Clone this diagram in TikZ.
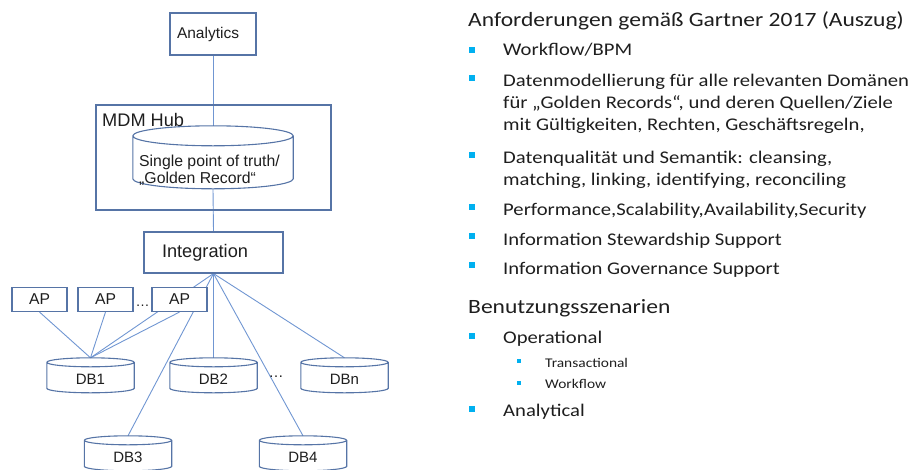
\documentclass[tikz,border=0pt]{standalone}
\usepackage{fontspec}
\setmainfont{Liberation Sans}
\newfontfamily\calib[FakeStretch=1.16]{Carlito}
\usetikzlibrary{calc,backgrounds}
\definecolor{boxc}{RGB}{86,116,166}
\definecolor{linec}{RGB}{112,150,210}
\definecolor{bulc}{RGB}{0,176,240}
\definecolor{txtc}{RGB}{30,30,30}
\newcommand\cylout[3]{%
  \draw[cylc] let \p1=(#1.north west), \p2=(#1.north east), \n1={(\x2-\x1)/2} in
   (\x1,\y1-#2pt) -- (\x1,\y1-#3pt+#2pt)
   arc[start angle=180,end angle=360,x radius=\n1,y radius=#2pt]
   -- (\x2,\y1-#2pt)
   arc[start angle=0,end angle=180,x radius=\n1,y radius=#2pt] -- cycle
   (\x1,\y1-#2pt)
   arc[start angle=180,end angle=360,x radius=\n1,y radius=#2pt];}
\begin{document}
\begin{tikzpicture}[x=1pt,y=-1pt,
  box/.style={draw=boxc, line width=1.1pt, fill=white, inner sep=0pt, text=txtc},
  hubbox/.style={draw=boxc, line width=1.9pt, inner sep=0pt},
  cylc/.style={draw=boxc, line width=1.1pt},
  dbtext/.style={inner sep=0pt, minimum width=87pt, minimum height=42pt, text=txtc,
     font=\fontsize{15}{17}\selectfont},
  conn/.style={draw=linec, line width=0.9pt},
  lbl/.style={anchor=base west, inner sep=0pt, text=txtc},
  h1/.style={anchor=base west, inner sep=0pt, text=txtc, font=\calib\fontsize{20.3}{22}\selectfont},
  itm/.style={anchor=base west, inner sep=0pt, text=txtc, font=\calib\fontsize{17.8}{20}\selectfont},
  subitm/.style={anchor=base west, inner sep=0pt, text=txtc, font=\calib\fontsize{13.3}{15}\selectfont},
  bul/.style={fill=bulc, minimum size=6pt, inner sep=0pt},
  sbul/.style={fill=bulc, minimum size=4pt, inner sep=0pt}]
\useasboundingbox (0,0) rectangle (918,469);

% ---------------- left diagram ----------------
\node[box, minimum width=86pt, minimum height=42pt, text width=72pt, align=left,
      font=\fontsize{15.5}{17}\selectfont] (ana) at (213,34) {Analytics};

\node[hubbox, minimum width=235pt, minimum height=105pt] (hub) at (213.5,157.5) {};
\node[lbl, font=\fontsize{18.2}{20}\selectfont] (hublbl) at (102,126) {MDM Hub};

\node[inner sep=0pt, minimum width=160pt, minimum height=63pt] (gr) at (213,157.5) {};
\cylout{gr}{10}{63}
\node[lbl, font=\fontsize{15.8}{17}\selectfont] (gr1) at (139,166) {Single point of truth/};
\node[lbl, font=\fontsize{15.8}{17}\selectfont] (gr2) at (139,183) {„Golden Record“};

\node[box, minimum width=139pt, minimum height=41pt, text width=103pt, align=left,
      font=\fontsize{18.2}{20}\selectfont] (integ) at (213.5,252.5) {Integration};

\node[box, minimum width=55pt, minimum height=24pt, font=\fontsize{15.7}{17}\selectfont] (ap1) at (39.5,299.5) {AP};
\node[box, minimum width=55pt, minimum height=24pt, font=\fontsize{15.7}{17}\selectfont] (ap2) at (105.5,299.5) {AP};
\node[box, minimum width=55pt, minimum height=24pt, font=\fontsize{15.7}{17}\selectfont] (ap3) at (179.5,299.5) {AP};
\node[anchor=base, inner sep=0pt, text=txtc, font=\fontsize{14}{16}\selectfont] (dotsap) at (142.5,306) {…};

\node[dbtext] (db1) at (90.5,379) {DB1};
\node[dbtext] (db2) at (213.5,379) {DB2};
\node[dbtext] (dbn) at (344.5,379) {DBn};
\node[dbtext] (db3) at (128,457) {DB3};
\node[dbtext] (db4) at (303,457) {DB4};
\cylout{db1}{4.5}{35}
\cylout{db2}{4.5}{35}
\cylout{dbn}{4.5}{35}
\cylout{db3}{4.5}{35}
\cylout{db4}{4.5}{35}
\node[anchor=base, inner sep=0pt, text=txtc, font=\fontsize{15}{17}\selectfont] (dotsdb) at (276,377) {…};

\begin{scope}[on background layer]
  \draw[conn] (ana.south) -- (gr.north);
  \draw[conn] (gr.south) -- (integ.north);
  \draw[conn] (integ.south) -- (db1.north);
  \draw[conn] (integ.south) -- (db3.north);
  \draw[conn] (integ.south) -- (db2.north);
  \draw[conn] (integ.south) -- (db4.north);
  \draw[conn] (integ.south) -- (dbn.north);
  \draw[conn] (ap1.south) -- (db1.north);
  \draw[conn] (ap2.south) -- (db1.north);
  \draw[conn] (ap3.south) -- (db1.north);
\end{scope}

% ---------------- right text ----------------
\node[h1] (t1) at (468,26) {Anforderungen gemäß Gartner 2017 (Auszug)};
\node[bul] (b1) at (472,50) {};
\node[itm] (i1) at (503,55) {Workflow/BPM};
\node[bul] (b2) at (472,78) {};
\node[itm] (i2a) at (503,86) {Datenmodellierung für alle relevanten Domänen};
\node[itm] (i2b) at (503,108) {für „Golden Records“, und deren Quellen/Ziele};
\node[itm] (i2c) at (503,130) {mit Gültigkeiten, Rechten, Geschäftsregeln,};
\node[bul] (b3) at (472,155) {};
\node[itm] (i3a) at (503,163) {Datenqualität und Semantik: cleansing,};
\node[itm] (i3b) at (503,185) {matching, linking, identifying, reconciling};
\node[bul] (b4) at (472,207) {};
\node[itm] (i4) at (503,215) {Performance,Scalability,Availability,Security};
\node[bul] (b5) at (472,236) {};
\node[itm] (i5) at (503,245) {Information Stewardship Support};
\node[bul] (b6) at (472,265) {};
\node[itm] (i6) at (503,274) {Information Governance Support};
\node[h1] (t2) at (468,313) {Benutzungsszenarien};
\node[bul] (b7) at (472,336) {};
\node[itm] (i7) at (503,343) {Operational};
\node[sbul] (s1) at (518.5,361) {};
\node[subitm] (j1) at (545,367) {Transactional};
\node[sbul] (s2) at (518.5,383) {};
\node[subitm] (j2) at (545,388) {Workflow};
\node[bul] (b8) at (472,409) {};
\node[itm] (i8) at (503,416) {Analytical};
\end{tikzpicture}
\end{document}
